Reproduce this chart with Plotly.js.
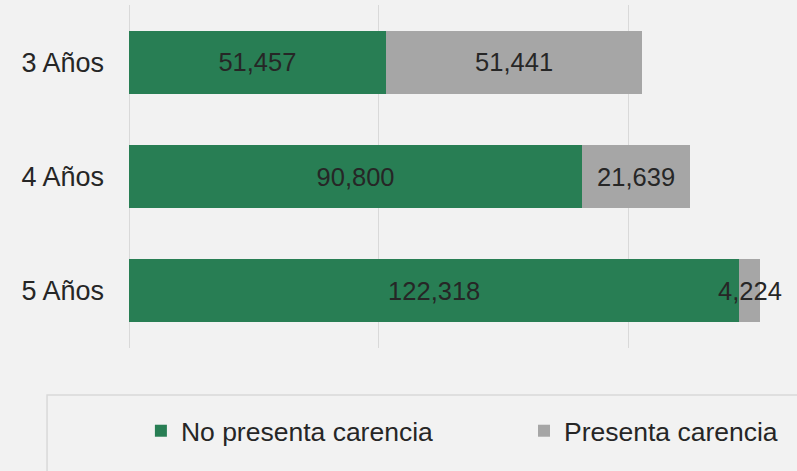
<!DOCTYPE html>
<html>
<head>
<meta charset="utf-8">
<script src="https://cdn.plot.ly/plotly-3.0.1.min.js"></script>
<style>
  html, body { margin: 0; padding: 0; background: #f2f2f2; }
  #chart { width: 797px; height: 471px; }
</style>
</head>
<body>
<div id="chart"></div>
<script>
const categories = ["3 Años", "4 Años", "5 Años"];
const noPresenta = [51457, 90800, 122318];
const presenta = [51441, 21639, 4224];
const seriesNames = ["No presenta carencia", "Presenta carencia"];

const FONT = "Liberation Sans, Arial, sans-serif";
const TXT = "#262626";

const traces = [
  {
    type: "bar", orientation: "h", name: seriesNames[0],
    y: categories, x: noPresenta,
    marker: { color: "#287E54" },
    texttemplate: "%{x:,}", textposition: "inside", insidetextanchor: "middle",
    textangle: 0, constraintext: "none",
    insidetextfont: { family: FONT, size: 25.5, color: TXT },
    hoverinfo: "skip", legend: "legend"
  },
  {
    type: "bar", orientation: "h", name: seriesNames[1],
    y: categories, x: presenta,
    marker: { color: "#A6A6A6" },
    texttemplate: "%{x:,}", textposition: "inside", insidetextanchor: "middle",
    textangle: 0, constraintext: "none",
    insidetextfont: { family: FONT, size: 25.5, color: TXT },
    hoverinfo: "skip", legend: "legend2"
  }
];

const layout = {
  width: 797, height: 471,
  paper_bgcolor: "#f2f2f2", plot_bgcolor: "#f2f2f2",
  margin: { l: 129, r: 7, t: 5, b: 123, pad: 0 },
  barmode: "stack", bargap: 0.447,
  font: { family: FONT, color: TXT },
  xaxis: {
    range: [0, 132465], showticklabels: false,
    showgrid: true, gridcolor: "#d9d9d9", gridwidth: 1, dtick: 50000,
    zeroline: true, zerolinecolor: "#d9d9d9", zerolinewidth: 1,
    showline: false, fixedrange: true
  },
  yaxis: {
    type: "category", autorange: "reversed",
    showgrid: false, zeroline: false, showline: false,
    ticks: "", ticklabelstandoff: 24,
    tickfont: { family: FONT, size: 27, color: TXT },
    fixedrange: true
  },
  showlegend: true,
  legend: {
    orientation: "h", x: 0.018, xanchor: "left", y: -0.242, yanchor: "middle",
    bgcolor: "rgba(0,0,0,0)", borderwidth: 0,
    font: { family: FONT, size: 26.5, color: TXT }
  },
  legend2: {
    orientation: "h", x: 0.5976, xanchor: "left", y: -0.242, yanchor: "middle",
    bgcolor: "rgba(0,0,0,0)", borderwidth: 0,
    font: { family: FONT, size: 26.5, color: TXT }
  },
  shapes: [
    {
      type: "rect", xref: "paper", yref: "paper",
      x0: -0.124, x1: 1.03, y0: -0.137, y1: -0.40,
      line: { color: "#d9d9d9", width: 1.5 }, fillcolor: "rgba(0,0,0,0)", layer: "below"
    }
  ]
};

Plotly.newPlot("chart", traces, layout, { displayModeBar: false, staticPlot: true });
</script>
</body>
</html>
